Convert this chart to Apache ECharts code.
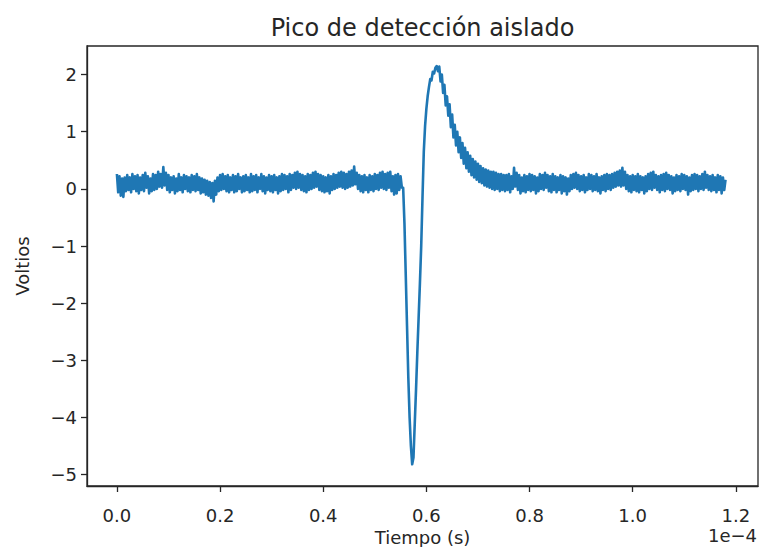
<!DOCTYPE html>
<html>
<head>
<meta charset="utf-8">
<script src="https://cdn.jsdelivr.net/npm/echarts@6/dist/echarts.min.js"></script>
<style>html,body{margin:0;padding:0;background:#fff}#c{width:760px;height:547px}</style>
</head>
<body>
<div id="c"></div>
<script>
// Sampling interval (units of 1e-4 s)
var dt = 0.0025;
// Segment start times (units of 1e-4 s)
var tPre = 0.0, tPico = 0.555, tPost = 0.6225;
// Baseline before the event (volts)
var voltajePre = [
0.26,-0.06,0.22,-0.12,0.18,-0.14,0.2,-0.04,0.24,-0.02,0.2,-0.06,0.26,0.0,0.22,-0.04,0.24,-0.08,0.2,-0.02,
0.24,-0.04,0.28,0.02,0.22,-0.08,0.18,-0.04,0.26,-0.02,0.24,0.0,0.3,0.04,0.26,0.02,0.38,0.06,0.28,-0.02,
0.24,-0.06,0.2,-0.02,0.22,-0.08,0.18,-0.04,0.26,-0.02,0.2,-0.06,0.24,0.0,0.22,-0.04,0.2,-0.06,0.24,-0.02,
0.22,-0.04,0.26,-0.02,0.2,-0.08,0.18,-0.06,0.16,-0.1,0.14,-0.12,0.12,-0.16,0.1,-0.22,0.14,-0.1,0.2,-0.04,
0.24,-0.02,0.26,0.0,0.22,-0.04,0.24,-0.06,0.2,-0.02,0.24,-0.06,0.22,-0.04,0.26,0.0,0.2,-0.06,0.22,-0.04,
0.24,-0.02,0.2,-0.06,0.26,-0.04,0.22,-0.02,0.24,-0.06,0.2,0.0,0.26,-0.04,0.22,-0.08,0.2,-0.02,0.24,-0.04,
0.22,-0.06,0.24,-0.02,0.2,-0.08,0.22,-0.04,0.26,-0.02,0.24,0.0,0.22,-0.06,0.26,-0.02,0.24,0.02,0.28,0.0,
0.3,0.02,0.26,-0.02,0.24,-0.04,0.22,-0.06,0.26,-0.02,0.24,0.0,0.28,0.02,0.3,0.04,0.26,-0.02,0.24,-0.04,
0.22,-0.06,0.2,-0.04,0.24,-0.08,0.22,-0.02,0.26,0.0,0.24,0.02,0.28,0.04,0.3,0.02,0.28,0.0,0.26,0.02,
0.3,0.04,0.32,0.06,0.39,0.08,0.28,0.0,0.24,-0.04,0.22,-0.06,0.24,-0.02,0.2,-0.06,0.24,-0.02,0.22,-0.04,
0.26,0.0,0.24,-0.02,0.28,0.02,0.3,0.0,0.26,-0.02,0.28,0.02,0.3,-0.04,0.22,-0.1,0.24,-0.08,0.26,-0.02,
0.22,0.02
];
// Detection pulse: fall, minimum and rise to the peak (volts)
var voltajePico = [
0.02,-0.6,-1.5,-2.4,-3.3,-4.0,-4.5,-4.82,-4.7,-4.1,
-3.5,-2.85,-2.25,-1.65,-1.0,-0.15,0.65,1.1,1.4,1.62,
1.78,1.92,1.9,2.05,2.02,2.12,2.15
];
// Decay after the peak and baseline afterwards (volts)
var voltajePost = [
2.06,2.14,1.88,2.0,1.68,1.82,1.46,1.62,1.28,1.48,1.08,1.3,0.9,1.12,0.76,1.0,0.64,0.9,0.54,0.8,
0.44,0.72,0.36,0.64,0.3,0.58,0.24,0.52,0.2,0.48,0.16,0.44,0.12,0.4,0.1,0.36,0.06,0.34,0.04,0.32,
0.02,0.3,0.0,0.3,-0.02,0.28,0.0,0.26,-0.04,0.26,-0.02,0.24,
-0.04,0.24,-0.02,0.26,-0.06,0.22,0.0,0.37,0.04,0.28,-0.02,0.24,-0.08,0.2,-0.04,0.24,-0.06,0.22,-0.02,0.26,
-0.04,0.24,-0.02,0.22,-0.08,0.2,-0.04,0.26,0.0,0.24,-0.02,0.28,0.02,0.24,-0.04,0.22,-0.06,0.26,-0.02,0.22,
-0.06,0.2,-0.02,0.24,-0.08,0.22,-0.04,0.2,-0.1,0.18,-0.04,0.24,0.0,0.26,0.02,0.28,0.0,0.24,-0.04,0.22,
-0.02,0.24,-0.06,0.2,-0.02,0.26,0.0,0.24,-0.04,0.22,-0.02,0.26,-0.04,0.2,-0.08,0.22,-0.02,0.24,-0.04,0.26,
0.0,0.24,-0.02,0.26,0.02,0.28,0.04,0.3,0.06,0.32,0.04,0.37,0.06,0.3,0.0,0.24,-0.04,0.22,-0.06,0.24,
-0.02,0.22,-0.04,0.26,-0.06,0.22,-0.02,0.2,-0.08,0.22,-0.04,0.26,0.0,0.28,-0.02,0.3,0.02,0.24,-0.02,0.22,
-0.06,0.24,-0.02,0.26,-0.04,0.28,0.0,0.24,-0.02,0.22,-0.08,0.2,-0.04,0.24,-0.02,0.22,-0.04,0.26,0.0,0.24,
-0.02,0.22,-0.1,0.2,-0.04,0.24,-0.02,0.26,0.0,0.24,-0.04,0.22,0.0,0.26,-0.02,0.3,0.02,0.24,-0.02,0.22,
-0.04,0.24,-0.02,0.2,-0.06,0.24,-0.02,0.22,-0.08,0.2,-0.02,0.16
];
// Tick labels
var xTicks = [0.0, 0.2, 0.4, 0.6, 0.8, 1.0, 1.2];
var yTicks = [-5, -4, -3, -2, -1, 0, 1, 2];

function seg(t0, vals) {
  var out = [];
  for (var i = 0; i < vals.length; i++) out.push([+(t0 + i * dt).toFixed(4), vals[i]]);
  return out;
}
var datos = seg(tPre, voltajePre).concat(seg(tPico, voltajePico)).concat(seg(tPost, voltajePost));

var FONT = 'DejaVu Sans';
var INK = '#262626';
var chart = echarts.init(document.getElementById('c'), null, {renderer: 'svg'});
chart.setOption({
  animation: false,
  backgroundColor: '#ffffff',
  grid: {left: 87, right: 2, top: 46, bottom: 61, containLabel: false, outerBoundsMode: 'none',
         show: true, borderColor: INK, borderWidth: 1.3, backgroundColor: 'transparent'},
  graphic: [
    {type: 'text', x: 422.5, y: 28, style: {text: 'Pico de detección aislado', font: '24px "DejaVu Sans"', fill: INK, align: 'center', verticalAlign: 'middle'}},
    {type: 'text', x: 757, y: 535, style: {text: '1e\u22124', font: '18px "DejaVu Sans"', fill: INK, align: 'right', verticalAlign: 'middle'}}
  ],
  xAxis: {
    type: 'value', min: -0.058, max: 1.243,
    axisLine: {show: true, onZero: false, lineStyle: {color: INK, width: 1.3}},
    axisTick: {show: true, customValues: xTicks, length: 6, lineStyle: {color: INK, width: 1.3}},
    axisLabel: {customValues: xTicks, formatter: function (v) { return v.toFixed(1); }, fontFamily: FONT, fontSize: 18, color: INK, margin: 20},
    splitLine: {show: false},
    name: 'Tiempo (s)', nameLocation: 'middle', nameGap: 40,
    nameTextStyle: {fontFamily: FONT, fontSize: 18, color: INK}
  },
  yAxis: {
    type: 'value', min: -5.2, max: 2.5,
    axisLine: {show: true, onZero: false, lineStyle: {color: INK, width: 1.3}},
    axisTick: {show: true, customValues: yTicks, length: 6, lineStyle: {color: INK, width: 1.3}},
    axisLabel: {customValues: yTicks, formatter: function (v) { return v < 0 ? '\u2212' + Math.abs(v) : String(v); }, fontFamily: FONT, fontSize: 18, color: INK, margin: 10},
    splitLine: {show: false},
    name: 'Voltios', nameLocation: 'middle', nameGap: 56,
    nameTextStyle: {fontFamily: FONT, fontSize: 18, color: INK}
  },
  series: [{
    type: 'line', data: datos, showSymbol: false, smooth: false,
    lineStyle: {color: '#1f77b4', width: 2.6, join: 'round'},
    z: 3
  }]
});
</script>
</body>
</html>
